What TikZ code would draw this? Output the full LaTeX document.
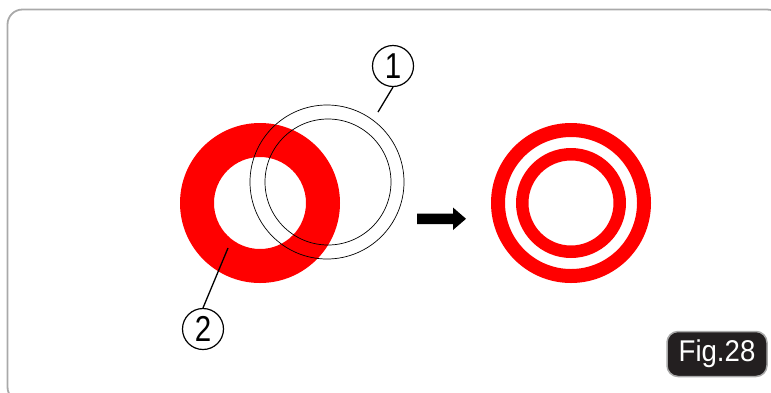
\documentclass[tikz,border=0pt]{standalone}
\usepackage{fontspec}
\setmainfont{Liberation Sans}
\usetikzlibrary{calc}
\definecolor{ringred}{HTML}{FF0000}
\definecolor{framegray}{HTML}{A9A9A9}
\definecolor{tagfill}{HTML}{231F20}
\newcommand\digitlab[1]{\scalebox{0.82}[1]{\fontsize{36}{36}\selectfont\raisebox{-0.5pt}{#1}}}
\tikzset{
  callout/.style={circle,draw=black,line width=1.2,inner sep=0,minimum size=41pt},
  leader/.style={line width=1.3},
  thinring/.style={draw=black,line width=0.7}
}

\begin{document}
\begin{tikzpicture}[x=1pt,y=-1pt]
\useasboundingbox (0,0) rectangle (771,392);
% ---------- outer frame ----------
\draw[framegray,line width=1.8,rounded corners=15] (7.5,9.5) rectangle (782,402);
% ---------- left: red ring with the thin ring over it ----------
\begin{scope}
  \fill[ringred,even odd rule] (260,203) circle (80) (260,203) circle (46);
  \draw[thinring] (327,182) circle (77);
  \draw[thinring] (328,182) circle (63);
  \node[callout] (lab1) at (393,66) {\digitlab{1}};
  \node[callout] (lab2) at (203,329) {\digitlab{2}};
  \coordinate (tip1) at (378,112);
  \coordinate (tip2) at (228,248);
  \draw[leader] (lab1.south) -- (tip1);
  \draw[leader] (lab2.north) -- (tip2);
\end{scope}
% ---------- arrow ----------
\fill[black] (417,213.5) -- (453,213.5) -- (453,207.5) -- (466,218.8) -- (453,230)
  -- (453,224) -- (417,224) -- cycle;
% ---------- right: two concentric red rings ----------
\begin{scope}
  \fill[ringred,even odd rule] (571,203) circle (80) (571,203) circle (66);
  \fill[ringred,even odd rule] (571,203) circle (55) (571,203) circle (42.5);
\end{scope}
% ---------- figure tag ----------
\node[fill=tagfill,draw=framegray,line width=1.5,rounded corners=11,
  minimum width=100pt,minimum height=45pt,inner sep=0,text=white,
  font=\fontsize{30}{30}\selectfont] (tag) at (717,354) {\scalebox{0.92}[1]{Fig.28}};
\end{tikzpicture}
\end{document}
